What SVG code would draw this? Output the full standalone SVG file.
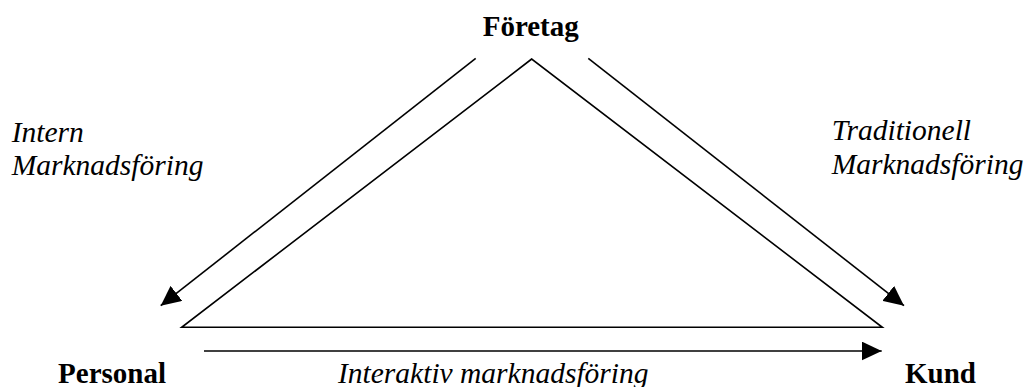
<svg xmlns="http://www.w3.org/2000/svg" width="1026" height="387" viewBox="0 0 1026 387">
<style>
.b{font-family:"Liberation Serif","Times New Roman",serif;font-weight:bold;font-size:29px;fill:#000}
.it{font-family:"Liberation Serif","Times New Roman",serif;font-style:italic;font-size:29.5px;fill:#000}
.ln{stroke:#000;stroke-width:1.6;fill:none}
</style>
<defs>
<marker id="ah" markerUnits="userSpaceOnUse" markerWidth="20" markerHeight="19" refX="20" refY="9.5" orient="auto" viewBox="0 0 20 19">
<path d="M0,0 L20,9.5 L0,19 z" fill="#000"/>
</marker>
</defs>
<rect width="1026" height="387" fill="#fff"/>
<g id="triangle">
<path class="ln" d="M531.7,59 L181.7,327.3 L882.3,327.3 Z"/>
</g>
<g id="connectors">
<line class="ln" x1="475.7" y1="58.3" x2="160.7" y2="305.7" marker-end="url(#ah)"/>
<line class="ln" x1="588.3" y1="58.3" x2="904" y2="305.7" marker-end="url(#ah)"/>
<line class="ln" x1="204" y1="351" x2="881.7" y2="351" marker-end="url(#ah)"/>
</g>
<g id="foretag"><text class="b" x="482.7" y="36">Företag</text></g>
<g id="personal"><text class="b" x="166" y="383" text-anchor="end">Personal</text></g>
<g id="kund"><text class="b" x="905" y="383">Kund</text></g>
<g id="intern-label">
<text class="it" x="11.7" y="141.7">Intern</text>
<text class="it" x="11.7" y="175">Marknadsföring</text>
</g>
<g id="traditionell-label">
<text class="it" x="831.7" y="140">Traditionell</text>
<text class="it" x="831.7" y="173.5">Marknadsföring</text>
</g>
<g id="interaktiv-label">
<text class="it" x="338" y="383">Interaktiv marknadsföring</text>
</g>
</svg>
